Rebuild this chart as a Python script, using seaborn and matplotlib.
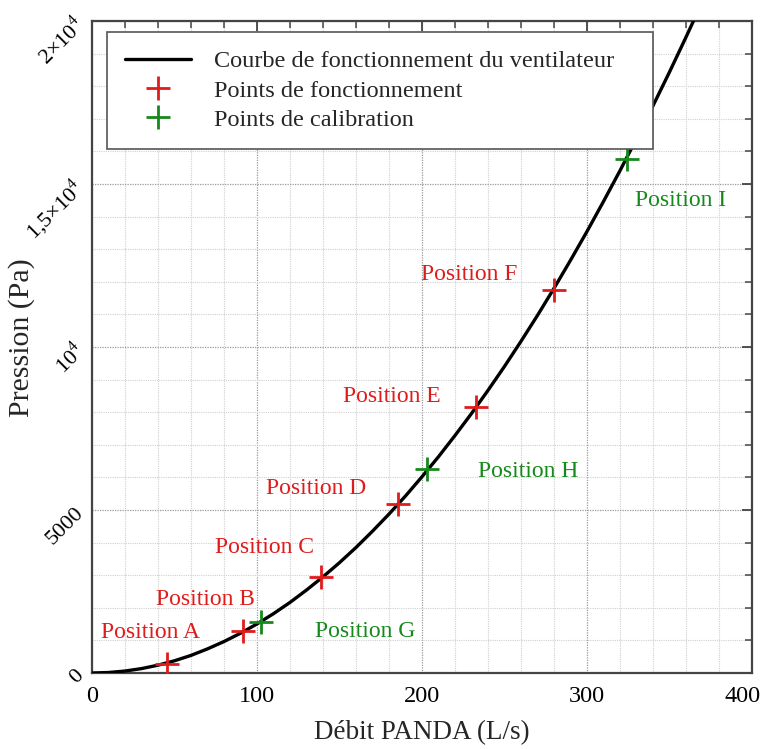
import numpy as np
import pandas as pd
import matplotlib
matplotlib.use("Agg")
import matplotlib.pyplot as plt
import matplotlib.transforms as mtransforms
import seaborn as sns
from matplotlib.ticker import MultipleLocator, FixedLocator, FixedFormatter

# Fan curve
curve_x = [0, 10, 20, 30, 40, 50, 60, 70, 80, 90, 100, 110, 120, 130, 140, 150, 160, 170, 180,
           190, 200, 210, 220, 230, 240, 250, 260, 270, 280, 290, 300, 310, 320, 330, 340,
           350, 360, 370]
curve_y = [0, 15, 60, 135, 240, 375, 540, 740, 965, 1220, 1505, 1820, 2165, 2545, 2950, 3385,
           3850, 4350, 4875, 5430, 6020, 6635, 7285, 7960, 8670, 9405, 10175, 10970, 11800,
           12660, 13545, 14465, 15410, 16390, 17400, 18435, 19505, 20600]

# Operating points
op_names = ["Position A", "Position B", "Position C", "Position D", "Position E", "Position F"]
op_x = [45.6, 91.5, 138.8, 185.5, 232.7, 280]
op_y = [290, 1286, 2940, 5176, 8147, 11761]

# Calibration points
cal_names = ["Position G", "Position H", "Position I"]
cal_x = [102.4, 203, 324.2]
cal_y = [1562, 6248, 15773]

# Label positions
op_lab_x = [35.2, 68.5, 104.8, 135.8, 181.8, 228.5]
op_lab_y = [1256, 2266, 3859, 5666, 8484, 12220]
cal_lab_x = [165.5, 264.2, 357]
cal_lab_y = [1286, 6187, 14487]

y_ticks = [0, 5000, 10000, 15000, 20000]
y_tick_labels = ["0", "5000", "10$^4$", "1,5×10$^4$", "2×10$^4$"]
x_ticks = [0, 100, 200, 300, 400]

RED = "#e01b1b"
GREEN = "#15891a"

sns.set_theme(style="white")
plt.rcParams["font.family"] = ["Liberation Serif", "DejaVu Serif"]
plt.rcParams["mathtext.fontset"] = "custom"
plt.rcParams["mathtext.rm"] = "Liberation Serif"

fig = plt.figure(figsize=(7.62, 7.49), dpi=100)
ax = fig.add_axes([92/762, 1 - 673/749, 660/762, 652/749])

curve_df = pd.DataFrame({"x": curve_x, "y": curve_y})

sns.lineplot(data=curve_df, x="x", y="y", ax=ax, color="black", lw=2.4,
             label="Courbe de fonctionnement du ventilateur", zorder=3)
ax.plot(op_x, op_y, ls="none", marker="+", ms=17, mew=2.0, color=RED,
        label="Points de fonctionnement", zorder=4)
ax.plot(cal_x, cal_y, ls="none", marker="+", ms=17, mew=2.0, color=GREEN,
        label="Points de calibration", zorder=4)

for n, x, y in zip(op_names, op_lab_x, op_lab_y):
    ax.text(x, y, n, color=RED, fontsize=17, ha="center", va="center")
for n, x, y in zip(cal_names, cal_lab_x, cal_lab_y):
    ax.text(x, y, n, color=GREEN, fontsize=17, ha="center", va="center")

ax.set_xlim(0, 400)
ax.set_ylim(0, 20000)
ax.xaxis.set_major_locator(FixedLocator(x_ticks))
ax.xaxis.set_minor_locator(MultipleLocator(20))
ax.yaxis.set_major_locator(FixedLocator(y_ticks))
ax.yaxis.set_major_formatter(FixedFormatter(y_tick_labels))
ax.yaxis.set_minor_locator(MultipleLocator(1000))

ax.grid(which="major", color="#9a9a9a", ls=(0, (1, 1)), lw=0.9)
ax.grid(which="minor", color="#d0d0d0", ls=(0, (1, 1)), lw=0.8)
ax.set_axisbelow(True)

for s in ax.spines.values():
    s.set_color("#444444")
    s.set_linewidth(1.6)
    s.set_visible(True)

ax.tick_params(which="both", direction="in", top=True, right=True, colors="#444444",
               labelcolor="black")
ax.tick_params(which="major", length=7, width=1.3, labelsize=17.5)
ax.tick_params(which="minor", length=5, width=1.1)
ax.tick_params(axis="x", pad=9)
ax.tick_params(axis="y", pad=8)
for lab in ax.get_yticklabels():
    lab.set_rotation(45)
    lab.set_rotation_mode("anchor")
    lab.set_fontsize(16)
    lab.set_va("center")
    lab.set_ha("right")

# Last x tick label shifted slightly inward so it stays on the canvas
xl = ax.get_xticklabels()
xl[-1].set_transform(xl[-1].get_transform() +
                     mtransforms.ScaledTranslation(-9/100, 0, fig.dpi_scale_trans))

ax.set_xlabel("Débit PANDA (L/s)", fontsize=19.5, labelpad=10)
ax.set_ylabel("Pression (Pa)", fontsize=21.5)
ax.yaxis.set_label_coords(-0.087, 0.515)

leg = ax.legend(loc="upper left", bbox_to_anchor=(0.0227, 0.983, 0.827, 0.0), mode="expand",
                fontsize=17.5, frameon=True, fancybox=False, edgecolor="#555555",
                framealpha=1, handlelength=2.7, borderpad=0.75, labelspacing=0.3,
                handletextpad=0.95, borderaxespad=0)
leg.get_frame().set_linewidth(1.2)

fig.savefig("out.png", dpi=100, facecolor="white")
